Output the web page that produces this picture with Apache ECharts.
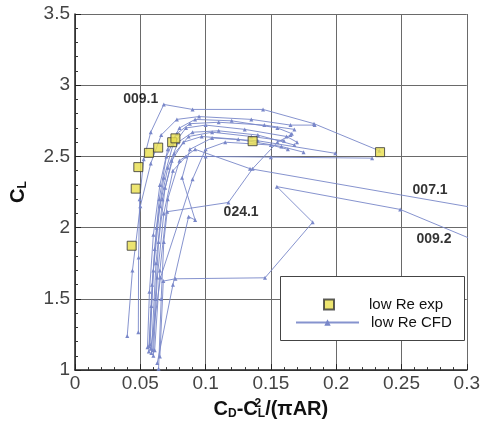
<!DOCTYPE html>
<html><head><meta charset="utf-8">
<script src="https://cdn.jsdelivr.net/npm/echarts@6/dist/echarts.min.js"></script>
<style>html,body{margin:0;padding:0;background:#fff}#c{width:483px;height:425px}</style>
</head><body><div id="c"></div>
<script>
// tick labels
const xTicks = ['0','0.05','0.1','0.15','0.2','0.25','0.3'];
const yTicks = ['1','1.5','2','2.5','3','3.5'];

// low Re experiment
const expX = [0.0434,0.0465,0.0485,0.0566,0.0637,0.0744,0.0769,0.136,0.2336];
const expY = [1.873,2.274,2.425,2.525,2.562,2.600,2.627,2.607,2.530];

// low Re CFD polars  [CD - CL^2/(pi AR), CL]
const cfd0091 = [[0.0485,1.265],[0.0487,1.79],[0.0495,2.2],[0.0526,2.48],[0.058,2.67],[0.068,2.865],[0.09,2.83],[0.144,2.83],[0.183,2.73],[0.233,2.54]];
const cfdA = [[0.040,1.24],[0.044,1.7],[0.05,2.15],[0.058,2.45],[0.066,2.65],[0.078,2.76],[0.095,2.78],[0.135,2.76],[0.165,2.72],[0.1835,2.72]];
const cfdB = [[0.0555,1.16],[0.057,1.55],[0.06,1.95],[0.065,2.3],[0.071,2.55],[0.08,2.7],[0.092,2.76],[0.12,2.75],[0.155,2.7],[0.166,2.66]];
const cfdC = [[0.0565,1.13],[0.059,1.6],[0.0625,2.0],[0.068,2.35],[0.075,2.58],[0.085,2.7],[0.1,2.72],[0.13,2.69],[0.162,2.64],[0.17,2.6]];
const cfdD = [[0.0575,1.18],[0.06,1.7],[0.065,2.15],[0.071,2.42],[0.079,2.6],[0.09,2.67],[0.11,2.68],[0.14,2.65],[0.168,2.58]];
const cfdE = [[0.0585,1.12],[0.062,1.75],[0.067,2.2],[0.074,2.47],[0.083,2.6],[0.097,2.64],[0.125,2.62],[0.158,2.57],[0.175,2.53]];
const cfdF = [[0.06,1.1],[0.063,1.65],[0.068,2.1],[0.075,2.4],[0.085,2.5],[0.1,2.5],[0.15,2.495],[0.2275,2.488]];
const cfd0071 = [[0.061,1.14],[0.065,1.7],[0.071,2.2],[0.08,2.47],[0.092,2.55],[0.134,2.414],[0.32,2.117]];
const cfd0092 = [[0.065,1.095],[0.0676,1.625],[0.0769,1.641],[0.1455,1.648],[0.182,2.038],[0.1546,2.288],[0.249,2.128],[0.32,1.857]];
const cfd0241 = [[0.064,1.009],[0.066,1.5],[0.068,1.9],[0.0706,2.112],[0.1175,2.177],[0.136,2.414],[0.155,2.6],[0.165,2.65]];
const cfdG = [[0.063,1.05],[0.075,1.6],[0.087,2.077],[0.092,2.054],[0.082,2.35],[0.088,2.55],[0.105,2.63],[0.14,2.61],[0.1993,2.522]];
const cfdH = [[0.058,1.15],[0.0655,1.65],[0.09,2.34],[0.1,2.55],[0.115,2.6],[0.15,2.58],[0.163,2.55]];
const cfdI = [[0.0568,1.17],[0.0585,1.45],[0.061,1.85],[0.0645,2.2],[0.07,2.5],[0.078,2.66],[0.088,2.73],[0.11,2.74],[0.145,2.72],[0.168,2.69]];
const cfdJ = [[0.0595,1.14],[0.0615,1.5],[0.064,1.9],[0.069,2.28],[0.076,2.52],[0.087,2.64],[0.105,2.67],[0.135,2.64],[0.16,2.61]];
const cfdSets = [cfd0091,cfdA,cfdB,cfdC,cfdD,cfdE,cfdF,cfd0071,cfd0092,cfd0241,cfdG,cfdH,cfdI,cfdJ];

// curve annotations
const annoNames = ['009.1','024.1','007.1','009.2'];
const annoX = [0.0503,0.1272,0.2719,0.2749];
const annoY = [2.901,2.107,2.260,1.919];

const FONT = 'Liberation Sans, Arial, sans-serif';
const CFD_COLOR = '#7987c9';
const chart = echarts.init(document.getElementById('c'));

const series = cfdSets.map(d => ({
  name: 'low Re CFD', type: 'line', data: d,
  symbol: 'triangle', symbolSize: 4, showSymbol: true,
  lineStyle: {color: CFD_COLOR, width: 1, opacity: 0.9},
  itemStyle: {color: CFD_COLOR},
  emphasis: {disabled: true}, animation: false
}));
series.push({
  name: 'low Re exp', type: 'scatter',
  data: expX.map((x, i) => [x, expY[i]]),
  symbol: 'rect', symbolSize: 9,
  itemStyle: {color: '#e9df4c', borderColor: '#333', borderWidth: 1},
  z: 5, animation: false
});
series.push({
  name: 'anno', type: 'scatter', symbolSize: 0, silent: true,
  data: annoNames.map((n, i) => ({name: n, value: [annoX[i], annoY[i]]})),
  label: {show: true, position: 'inside', formatter: p => p.name,
    fontFamily: FONT, fontWeight: 'bold', fontSize: 14, color: '#000'},
  z: 6, animation: false
});

chart.setOption({
  backgroundColor: '#fff',
  animation: false,
  grid: {left: 74, right: 15, top: 14, bottom: 52},
  xAxis: {
    type: 'value', min: 0, max: 0.3, interval: 0.05,
    axisLine: {show: true, onZero: false, lineStyle: {color: '#222', width: 1.5}},
    axisTick: {show: true, inside: true, length: 6, lineStyle: {color: '#222'}},
    minorTick: {show: true, splitNumber: 5, length: 3, lineStyle: {color: '#333'}},
    splitLine: {show: true, lineStyle: {color: '#6a6a6a', width: 1}},
    axisLabel: {fontFamily: FONT, fontSize: 19, color: '#444', margin: 4,
      formatter: (v, i) => xTicks[i]},
    name: '{b|C}{s|D}{b|-C}{p|2}{s|L}{b|/(πAR)}',
    nameLocation: 'middle', nameGap: 24,
    nameTextStyle: {rich: {
      b: {fontFamily: FONT, fontWeight: 'bold', fontSize: 20, color: '#111'},
      s: {fontFamily: FONT, fontWeight: 'bold', fontSize: 12, color: '#111', padding: [10, 0, 0, 0]},
      p: {fontFamily: FONT, fontWeight: 'bold', fontSize: 12, color: '#111', padding: [0, 0, 10, 0], width: 0}
    }}
  },
  yAxis: {
    type: 'value', min: 1, max: 3.5, interval: 0.5,
    axisLine: {show: true, onZero: false, lineStyle: {color: '#222', width: 1.5}},
    axisTick: {show: true, inside: true, length: 6, lineStyle: {color: '#222'}},
    minorTick: {show: true, splitNumber: 5, length: 3, lineStyle: {color: '#333'}},
    splitLine: {show: true, lineStyle: {color: '#6a6a6a', width: 1}},
    axisLabel: {fontFamily: FONT, fontSize: 19, color: '#444', margin: 5,
      formatter: (v, i) => yTicks[i]},
    name: '{b|C}{s|L}',
    nameLocation: 'middle', nameGap: 46, nameRotate: 90,
    nameTextStyle: {rich: {
      b: {fontFamily: FONT, fontWeight: 'bold', fontSize: 20, color: '#111'},
      s: {fontFamily: FONT, fontWeight: 'bold', fontSize: 12, color: '#111', padding: [10, 0, 0, 0]}
    }}
  },
  graphic: [{
    type: 'rect', z: 10,
    shape: {x: 280.5, y: 276.5, width: 184, height: 64},
    style: {fill: '#fff', stroke: '#444', lineWidth: 1}
  }],
  legend: [{
    data: ['low Re exp'], left: 323, top: 297, padding: 0, z: 20,
    itemWidth: 10, itemHeight: 10, selectedMode: false,
    textStyle: {fontFamily: FONT, fontSize: 15, color: '#111', padding: [0, 0, 0, 30]}
  }, {
    data: ['low Re CFD'], left: 295, top: 315, padding: 0, z: 20,
    itemWidth: 63, itemHeight: 8, selectedMode: false,
    textStyle: {fontFamily: FONT, fontSize: 15, color: '#111', padding: [0, 0, 0, 7]}
  }],
  series: series
});
</script></body></html>
